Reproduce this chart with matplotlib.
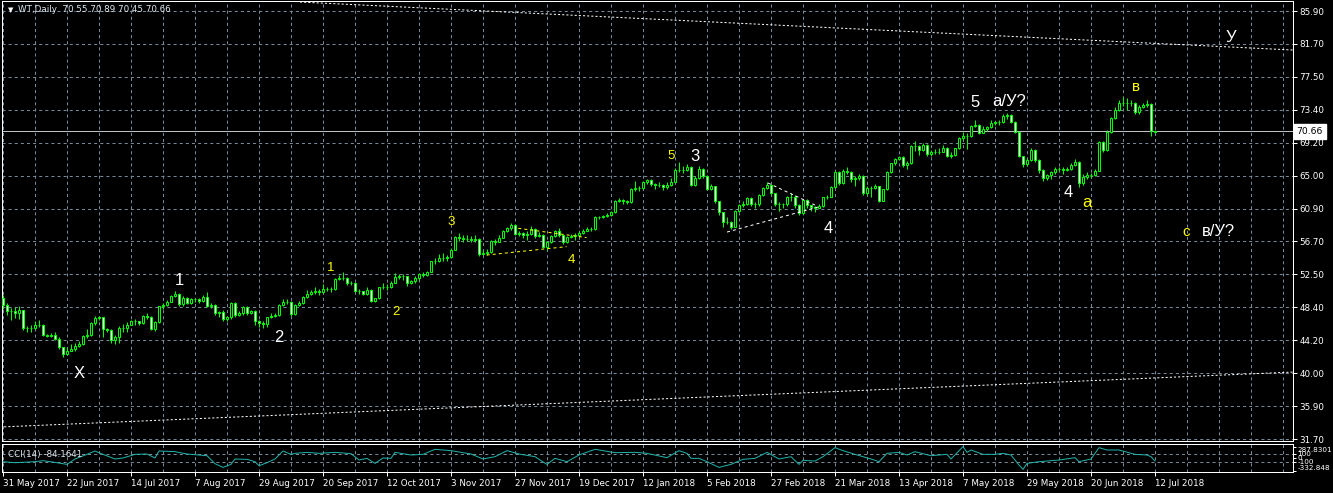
import numpy as np
import matplotlib
matplotlib.use("Agg")
import matplotlib.pyplot as plt
from matplotlib.patches import Rectangle

# --------------------------- DATA ---------------------------
# daily OHLC of WT, 31 May 2017 .. 12 Jul 2018
opens = [
    49.6, 48.7, 47.9, 47.9, 47.7, 48.0, 45.7, 45.7, 45.8, 46.2, 46.2, 44.9, 44.8, 44.9, 44.4, 43.3,
    42.5, 42.9, 43.1, 43.5, 43.7, 44.8, 44.9, 46.4, 47.0, 47.1, 45.6, 45.5, 44.3, 44.6, 45.8, 45.8,
    46.2, 46.6, 46.6, 46.4, 47.3, 47.2, 45.6, 46.5, 48.5, 48.7, 49.1, 49.8, 50.1, 48.8, 49.6, 48.9,
    49.4, 49.4, 49.2, 49.7, 48.5, 48.7, 47.6, 47.8, 46.9, 47.1, 48.9, 47.4, 47.6, 48.4, 47.6, 47.9,
    46.7, 46.4, 46.3, 47.1, 47.3, 47.4, 48.7, 49.1, 49.1, 47.5, 48.7, 48.9, 49.7, 50.1, 50.3, 50.5,
    50.3, 50.7, 50.7, 50.7, 52.0, 52.1, 52.1, 51.4, 51.5, 50.5, 50.4, 50.1, 50.6, 49.2, 49.5, 50.9,
    51.0, 50.9, 51.5, 52.2, 52.3, 52.3, 51.4, 51.7, 52.1, 52.6, 52.5, 52.9, 54.2, 54.2, 54.6, 54.6,
    54.7, 55.7, 57.3, 57.2, 57.0, 57.0, 56.9, 57.0, 55.1, 55.3, 55.4, 56.8, 56.7, 57.2, 58.0, 58.4,
    58.8, 57.7, 57.8, 57.6, 57.7, 58.3, 57.4, 57.6, 56.0, 56.6, 57.4, 58.0, 57.5, 56.6, 57.3, 57.4,
    57.5, 57.8, 58.1, 58.3, 58.3, 59.8, 59.8, 59.9, 60.1, 60.4, 61.9, 62.0, 61.8, 61.7, 63.4, 63.5,
    63.5, 64.2, 64.5, 64.0, 63.9, 63.9, 63.6, 63.9, 64.3, 65.8, 65.8, 65.8, 66.2, 63.9, 64.7, 65.9,
    65.0, 63.4, 63.7, 61.8, 60.4, 59.2, 59.2, 58.6, 60.6, 61.3, 61.5, 62.2, 61.5, 61.4, 62.6, 63.5,
    63.9, 62.8, 61.5, 61.4, 61.4, 62.4, 62.4, 61.3, 60.3, 62.0, 61.3, 61.1, 61.0, 61.2, 62.3, 62.4,
    63.6, 65.5, 64.1, 65.7, 65.5, 64.6, 64.7, 65.0, 62.8, 63.5, 63.5, 63.7, 61.9, 63.3, 65.5, 66.6,
    67.1, 67.4, 66.4, 66.6, 68.8, 68.8, 68.3, 68.9, 67.8, 68.0, 68.1, 68.1, 68.6, 67.6, 67.7, 68.5,
    69.8, 70.1, 70.1, 71.3, 71.5, 70.5, 71.0, 71.2, 71.7, 71.8, 71.8, 72.6, 72.7, 71.9, 70.6, 67.5,
    66.5, 67.0, 68.3, 67.0, 65.8, 64.8, 65.1, 65.5, 65.9, 65.9, 65.8, 65.9, 66.4, 66.8, 64.1, 64.9,
    65.1, 65.1, 65.7, 69.3, 68.3, 70.6, 72.3, 73.4, 74.3, 74.2, 74.3, 74.3, 73.1, 73.8, 74.0, 74.1,
    70.55,
]
highs = [
    49.9, 48.9, 48.3, 48.4, 48.5, 48.1, 46.0, 46.1, 46.6, 46.8, 46.3, 45.0, 45.1, 45.2, 44.6, 43.4,
    43.4, 43.7, 43.8, 44.1, 44.9, 45.6, 46.5, 47.3, 47.3, 47.2, 45.8, 45.6, 44.9, 46.0, 46.3, 46.5,
    46.8, 46.9, 46.7, 47.4, 47.7, 47.3, 46.6, 48.6, 48.9, 49.3, 50.0, 50.4, 50.2, 49.8, 49.7, 49.6,
    49.6, 49.5, 50.0, 50.3, 48.9, 48.8, 47.9, 48.0, 47.3, 49.1, 49.0, 47.9, 48.5, 48.5, 48.1, 48.0,
    46.8, 46.6, 47.2, 47.6, 47.7, 48.8, 49.4, 49.4, 49.2, 48.8, 49.2, 49.8, 50.6, 50.6, 50.9, 50.7,
    51.3, 50.9, 50.9, 52.1, 52.5, 52.8, 52.2, 51.7, 51.6, 50.7, 50.4, 50.9, 50.7, 49.6, 51.0, 51.4,
    51.3, 51.7, 52.7, 52.6, 52.6, 52.4, 51.9, 52.3, 52.7, 52.8, 53.0, 54.3, 54.6, 55.1, 55.2, 55.0,
    55.9, 57.4, 57.8, 57.5, 57.6, 57.4, 57.5, 57.1, 55.7, 55.8, 56.9, 57.0, 57.5, 58.2, 58.6, 59.0,
    58.9, 58.0, 57.9, 58.0, 58.7, 58.4, 57.9, 57.7, 56.8, 57.6, 58.2, 58.4, 57.6, 57.4, 57.7, 57.8,
    58.0, 58.3, 58.5, 58.6, 59.9, 60.0, 60.1, 60.3, 60.6, 62.0, 62.2, 62.1, 62.0, 63.5, 64.4, 63.8,
    64.4, 64.6, 64.6, 64.1, 64.2, 64.0, 64.2, 64.7, 66.0, 66.8, 66.3, 66.5, 66.3, 65.0, 66.3, 66.0,
    65.1, 64.0, 63.8, 61.9, 60.5, 59.8, 59.3, 60.7, 61.5, 61.8, 62.4, 62.3, 61.7, 62.7, 63.6, 64.2,
    64.0, 62.9, 61.7, 61.6, 62.5, 62.8, 62.6, 61.4, 62.1, 62.1, 61.3, 61.2, 61.5, 62.4, 62.6, 63.8,
    65.6, 65.7, 65.9, 66.1, 65.6, 65.0, 65.2, 65.1, 63.7, 63.8, 64.0, 63.8, 63.4, 65.6, 66.7, 67.3,
    67.6, 67.5, 66.9, 68.9, 69.5, 68.9, 69.2, 69.0, 68.3, 68.4, 68.5, 68.9, 68.7, 68.0, 68.6, 69.9,
    70.6, 70.4, 71.5, 72.1, 71.6, 71.3, 71.4, 72.1, 72.0, 72.1, 72.8, 73.0, 72.8, 72.0, 70.7, 67.6,
    67.3, 68.5, 68.4, 67.1, 65.9, 65.3, 65.7, 66.1, 66.2, 66.1, 66.2, 66.6, 67.1, 66.9, 65.3, 65.5,
    65.4, 65.9, 69.4, 69.4, 70.8, 72.5, 73.8, 74.6, 75.0, 74.9, 74.6, 74.4, 74.0, 74.2, 74.6, 74.2,
    70.89,
]
lows = [
    48.2, 47.4, 46.8, 47.0, 46.9, 45.5, 45.2, 45.3, 45.6, 45.9, 44.7, 44.6, 44.6, 44.2, 43.1, 42.1,
    42.3, 42.8, 42.9, 43.3, 43.6, 44.5, 44.8, 46.2, 46.8, 44.6, 45.3, 43.8, 43.7, 43.9, 45.2, 45.3,
    46.2, 46.2, 46.1, 46.3, 46.9, 45.5, 45.4, 46.4, 48.2, 48.6, 49.0, 49.7, 48.6, 48.6, 48.8, 48.8,
    49.0, 48.9, 49.1, 48.4, 48.3, 47.4, 47.2, 46.7, 46.7, 46.9, 47.2, 47.3, 47.4, 47.4, 47.5, 46.2,
    45.9, 45.7, 45.9, 47.0, 47.2, 47.3, 48.6, 48.8, 47.3, 47.4, 48.5, 48.8, 49.6, 49.9, 50.1, 49.9,
    50.2, 50.4, 50.3, 50.6, 51.8, 51.8, 51.2, 51.2, 50.3, 50.1, 49.9, 50.0, 49.0, 49.1, 49.4, 50.7,
    50.6, 50.8, 51.4, 52.0, 51.9, 51.1, 51.3, 51.5, 51.9, 52.2, 52.4, 52.8, 53.9, 54.1, 54.3, 54.2,
    54.6, 55.6, 56.8, 56.7, 56.8, 56.6, 56.7, 54.9, 55.0, 55.0, 55.3, 56.3, 56.6, 57.1, 57.9, 58.2,
    57.5, 57.4, 57.2, 56.9, 57.6, 57.2, 57.3, 55.9, 55.7, 56.5, 57.3, 57.3, 56.4, 56.5, 57.2, 56.9,
    57.3, 57.7, 58.0, 58.0, 58.2, 59.6, 59.7, 59.8, 60.0, 60.3, 61.7, 61.5, 61.4, 61.6, 63.1, 63.1,
    63.4, 64.0, 63.8, 63.4, 63.6, 63.2, 63.3, 63.8, 64.2, 65.5, 65.4, 65.7, 63.7, 63.7, 64.6, 64.8,
    63.2, 63.2, 61.6, 60.1, 58.6, 58.9, 58.3, 58.5, 60.4, 61.1, 61.3, 61.2, 61.0, 61.2, 62.5, 63.4,
    62.6, 61.2, 60.6, 60.9, 61.2, 61.9, 60.9, 60.1, 60.2, 61.0, 60.6, 60.5, 60.9, 61.1, 62.1, 62.3,
    63.5, 63.9, 64.0, 65.2, 64.2, 63.8, 64.5, 62.6, 62.6, 62.4, 63.3, 61.7, 61.8, 63.2, 65.4, 66.4,
    67.0, 66.2, 65.9, 66.5, 68.2, 67.7, 68.2, 67.6, 67.5, 67.8, 67.8, 68.0, 67.4, 67.3, 67.6, 68.4,
    69.6, 68.4, 70.0, 71.2, 70.3, 70.4, 70.7, 71.1, 71.5, 71.5, 71.7, 72.2, 71.7, 70.4, 67.4, 66.1,
    66.3, 66.9, 66.8, 65.4, 64.4, 64.5, 64.6, 65.2, 65.6, 65.3, 65.6, 65.8, 66.3, 63.6, 63.9, 64.6,
    64.7, 65.0, 65.6, 68.1, 68.2, 70.5, 72.2, 73.3, 73.9, 73.4, 73.9, 72.9, 72.9, 73.6, 73.8, 70.1,
    70.45,
]
closes = [
    48.7, 47.9, 47.9, 47.7, 48.0, 45.7, 45.7, 45.8, 46.2, 46.2, 44.9, 44.8, 44.9, 44.4, 43.3, 42.5,
    42.9, 43.1, 43.5, 43.7, 44.8, 44.9, 46.4, 47.0, 47.1, 45.6, 45.5, 44.3, 44.6, 45.8, 45.8, 46.2,
    46.6, 46.6, 46.4, 47.3, 47.2, 45.6, 46.5, 48.5, 48.7, 49.1, 49.8, 50.1, 48.8, 49.6, 48.9, 49.4,
    49.4, 49.2, 49.7, 48.5, 48.7, 47.6, 47.8, 46.9, 47.1, 48.9, 47.4, 47.6, 48.4, 47.6, 47.9, 46.7,
    46.4, 46.3, 47.1, 47.3, 47.4, 48.7, 49.1, 49.1, 47.5, 48.7, 48.9, 49.7, 50.1, 50.3, 50.5, 50.3,
    50.7, 50.7, 50.7, 52.0, 52.1, 52.1, 51.4, 51.5, 50.5, 50.4, 50.1, 50.6, 49.2, 49.5, 50.9, 51.0,
    50.9, 51.5, 52.2, 52.3, 52.3, 51.4, 51.7, 52.1, 52.6, 52.5, 52.9, 54.2, 54.2, 54.6, 54.6, 54.7,
    55.7, 57.3, 57.2, 57.0, 57.0, 56.9, 57.0, 55.1, 55.3, 55.4, 56.8, 56.7, 57.2, 58.0, 58.4, 58.8,
    57.7, 57.8, 57.6, 57.7, 58.3, 57.4, 57.6, 56.0, 56.6, 57.4, 58.0, 57.5, 56.6, 57.3, 57.4, 57.5,
    57.8, 58.1, 58.3, 58.3, 59.8, 59.8, 59.9, 60.1, 60.4, 61.9, 62.0, 61.8, 61.7, 63.4, 63.5, 63.5,
    64.2, 64.5, 64.0, 63.9, 63.9, 63.6, 63.9, 64.3, 65.8, 65.8, 65.8, 66.2, 63.9, 64.7, 65.9, 65.0,
    63.4, 63.7, 61.8, 60.4, 59.2, 59.2, 58.6, 60.6, 61.3, 61.5, 62.2, 61.5, 61.4, 62.6, 63.5, 63.9,
    62.8, 61.5, 61.4, 61.4, 62.4, 62.4, 61.3, 60.3, 62.0, 61.3, 61.1, 61.0, 61.2, 62.3, 62.4, 63.6,
    65.5, 64.1, 65.7, 65.5, 64.6, 64.7, 65.0, 62.8, 63.5, 63.5, 63.7, 61.9, 63.3, 65.5, 66.6, 67.1,
    67.4, 66.4, 66.6, 68.8, 68.8, 68.3, 68.9, 67.8, 68.0, 68.1, 68.1, 68.6, 67.6, 67.7, 68.5, 69.8,
    70.1, 70.1, 71.3, 71.5, 70.5, 71.0, 71.2, 71.7, 71.8, 71.8, 72.6, 72.7, 71.9, 70.6, 67.5, 66.5,
    67.0, 68.3, 67.0, 65.8, 64.8, 65.1, 65.5, 65.9, 65.9, 65.8, 65.9, 66.4, 66.8, 64.1, 64.9, 65.1,
    65.1, 65.7, 69.3, 68.3, 70.6, 72.3, 73.4, 74.3, 74.2, 74.3, 74.3, 73.1, 73.8, 74.0, 74.1, 70.7,
    70.66,
]

# CCI(14) read at selected bars
cci_bars = [0, 3, 8, 10, 13, 16, 18, 21, 23, 25, 28, 30, 33, 36, 38, 39, 43, 46, 49, 51,
            53, 55, 57, 58, 61, 63, 64, 66, 68, 70, 72, 73, 76, 79, 83, 87, 89, 91, 93, 95,
            97, 98, 102, 105, 108, 110, 112, 117, 120, 123, 126, 129, 133, 136, 138, 141, 144, 148, 153, 158,
            161, 166, 169, 171, 172, 174, 176, 179, 182, 185, 188, 191, 194, 197, 199, 200, 203, 205, 208, 210,
            213, 217, 219, 221, 224, 226, 228, 232, 236, 237, 240, 241, 242, 245, 248, 250, 252, 254, 255, 256,
            259, 264, 268, 269, 272, 274, 276, 279, 283, 286, 287, 288]
cci_vals = [-100, -126, -100, -74, -118, -170, -30, 91, 178, 91, -30, -4, 91, 100, -4, 178, 161, 100, 74, 56,
            -152, -248, -170, -30, -39, -100, -205, -126, -30, 178, 91, 117, 143, 117, 143, 109, -57, -13, -144, -4,
            -13, 143, 74, 91, 222, 204, 187, 100, -30, 30, 187, 100, 30, -170, -13, -100, 74, 222, 135, 143,
            117, 4, 187, 117, -13, -13, -100, -248, -170, -39, -13, 143, -30, 30, -170, -65, -83, 30, 265, 187,
            91, -30, -100, 117, 143, 74, 161, 56, 91, -30, 291, 143, 204, 91, 91, 117, 74, -187, -300, -144,
            -100, -57, 4, -100, -30, 265, 204, 204, 91, 74, 30, -84]

date_labels = ["31 May 2017", "22 Jun 2017", "14 Jul 2017", "7 Aug 2017", "29 Aug 2017",
               "20 Sep 2017", "12 Oct 2017", "3 Nov 2017", "27 Nov 2017", "19 Dec 2017",
               "12 Jan 2018", "5 Feb 2018", "27 Feb 2018", "21 Mar 2018", "13 Apr 2018",
               "7 May 2018", "29 May 2018", "20 Jun 2018", "12 Jul 2018"]
price_labels = ["31.70", "35.90", "40.00", "44.20", "48.40", "52.50", "56.70",
                "60.90", "65.00", "69.20", "73.40", "77.50", "81.70", "85.90"]
cci_levels = [287.8301, 100, 0, -100, -332.848]
cci_level_labels = ["287.8301", "100", "0", "-100", "-332.848"]

last_price = 70.66
title = "WT,Daily  70.55 70.89 70.45 70.66"
cci_title = "CCI(14) -84.1641"

# --------------------------- STYLE ---------------------------
W, H, DPI = 1333, 493, 100
PX = 72.0 / DPI          # one pixel in points
LIME = "#00FF00"
GRID = "#778899"
CCI_COLOR = "#20B2AA"
UI_FONT = 6.3

plt.rcParams["lines.scale_dashes"] = False
plt.rcParams["font.family"] = ["DejaVu Sans"]

fig = plt.figure(figsize=(W / DPI, H / DPI), dpi=DPI, facecolor="black")


def px_axes(x0, y0, x1, y1):
    return fig.add_axes([x0 / W, 1 - y1 / H, (x1 - x0) / W, (y1 - y0) / H])


ax = px_axes(2, 1, 1293, 441)
cx = px_axes(2, 444, 1293, 472)

n_bars = len(closes)
x_max = 322.5
for a in (ax, cx):
    a.set_facecolor("black")
    for s in a.spines.values():
        s.set_color("white")
        s.set_linewidth(PX)
    a.set_xlim(-0.25, x_max)
    for b in range(0, 323, 8):
        a.axvline(b, color=GRID, lw=PX, dashes=(2.2, 2.2), zorder=0)

# --------------------------- PRICE PANEL ---------------------------
ax.set_ylim(31.45, 87.17)
tick_vals = np.linspace(31.7, 85.9, len(price_labels))
for v in tick_vals:
    ax.axhline(v, color=GRID, lw=PX, dashes=(2.2, 2.2), zorder=0)

for i in range(n_bars):
    o, h, l, c = opens[i], highs[i], lows[i], closes[i]
    ax.vlines(i, l, h, color=LIME, lw=PX, zorder=2)
    face = "black" if c >= o else "white"
    ax.add_patch(Rectangle((i - 0.3, min(o, c)), 0.6, abs(c - o),
                           facecolor=face, edgecolor=LIME, lw=PX, zorder=3))

ax.axhline(last_price, color="#C0C0C0", lw=PX, zorder=1)

# trend lines (wave channel / triangles)
ax.plot([74.25, 322.5], [87.04, 80.96], color="white", lw=PX, dashes=(1.5, 1.5), zorder=4)
ax.plot([-0.75, 322.5], [33.22, 40.18], color="white", lw=PX, dashes=(1.5, 1.5), zorder=4)
ax.plot([128.8, 145.9], [58.39, 57.21], color="#FFFF00", lw=PX, dashes=(2.2, 2.2), zorder=4)
ax.plot([120.9, 140.9], [55.00, 56.06], color="#FFFF00", lw=PX, dashes=(2.2, 2.2), zorder=4)
ax.plot([191.25, 203.0], [64.12, 61.33], color="white", lw=PX, dashes=(2.2, 2.2), zorder=4)
ax.plot([181.0, 203.75], [57.91, 61.08], color="white", lw=PX, dashes=(2.2, 2.2), zorder=4)

# wave labels
wave_labels = [
    ("X", 19, 40.06, "white", 12), ("1", 44, 51.83, "white", 12), ("2", 69, 44.62, "white", 12),
    ("1", 82, 53.35, "#FFFF00", 9.5), ("2", 98.25, 47.78, "#FFFF00", 9.5), ("3", 112, 59.18, "#FFFF00", 9.5),
    ("4", 142, 54.37, "#FFFF00", 9.5), ("5", 167, 67.54, "#FFFF00", 9.5), ("3", 173, 67.54, "white", 12),
    ("4", 206.25, 58.42, "white", 12), ("5", 243, 74.3, "white", 12), ("а/У?", 251.5, 74.45, "white", 12),
    ("4", 266.25, 62.98, "white", 12), ("а", 271, 61.6, "#FFFF00", 12), ("в", 283.25, 76.28, "#FFFF00", 11),
    ("У", 307, 82.61, "white", 12), ("с", 295.75, 57.91, "#FFFF00", 11), ("в/У?", 303.75, 58.04, "white", 12),
]
for txt, bx, py, col, size in wave_labels:
    ax.text(bx, py, txt, color=col, fontsize=size, family=["Liberation Sans", "DejaVu Sans"],
            ha="center", va="center", zorder=6)

ax.yaxis.tick_right()
ax.set_yticks(tick_vals)
ax.set_yticklabels(price_labels)
ax.tick_params(axis="y", colors="white", labelcolor="white", labelsize=UI_FONT,
               length=3, width=PX, pad=1.5)
ax.tick_params(axis="x", bottom=False, labelbottom=False)

ax.annotate(f"{last_price:.2f}", xy=(1.0, last_price), xycoords=("axes fraction", "data"),
            xytext=(2.5, 0), textcoords="offset points", ha="left", va="center",
            fontsize=UI_FONT + 0.4, color="black",
            bbox=dict(boxstyle="square,pad=0.3", facecolor="white", edgecolor="white"))

fig.text(8 / W, 1 - 10 / H, "▼", color="white", fontsize=5, ha="left", va="center")
fig.text(18 / W, 1 - 10 / H, title, color="#DDE6EE", fontsize=UI_FONT, ha="left", va="center")

# --------------------------- CCI PANEL ---------------------------
cx.set_ylim(-368, 360)
for lv in (100, -100):
    cx.axhline(lv, color=GRID, lw=PX, dashes=(2.2, 2.2), zorder=0)
cx.plot(cci_bars, cci_vals, color=CCI_COLOR, lw=PX, zorder=3)
cx.text(6 / 1291, 0.64, cci_title, transform=cx.transAxes, color="#DDE6EE",
        fontsize=UI_FONT, ha="left", va="center")

cx.yaxis.tick_right()
cx.set_yticks(cci_levels)
cx.set_yticklabels(cci_level_labels)
cx.tick_params(axis="y", colors="white", labelcolor="white", labelsize=5.2,
               length=2, width=PX, pad=1)
cci_tick_texts = cx.get_yticklabels()
cci_tick_texts[0].set_va("top")
cci_tick_texts[-1].set_va("bottom")

cx.set_xticks(range(0, n_bars, 16))
cx.set_xticklabels(date_labels, ha="left")
cx.tick_params(axis="x", colors="white", labelcolor="white", labelsize=UI_FONT,
               length=3, width=PX, pad=2)

fig.savefig("out.png", dpi=DPI, facecolor="black")
